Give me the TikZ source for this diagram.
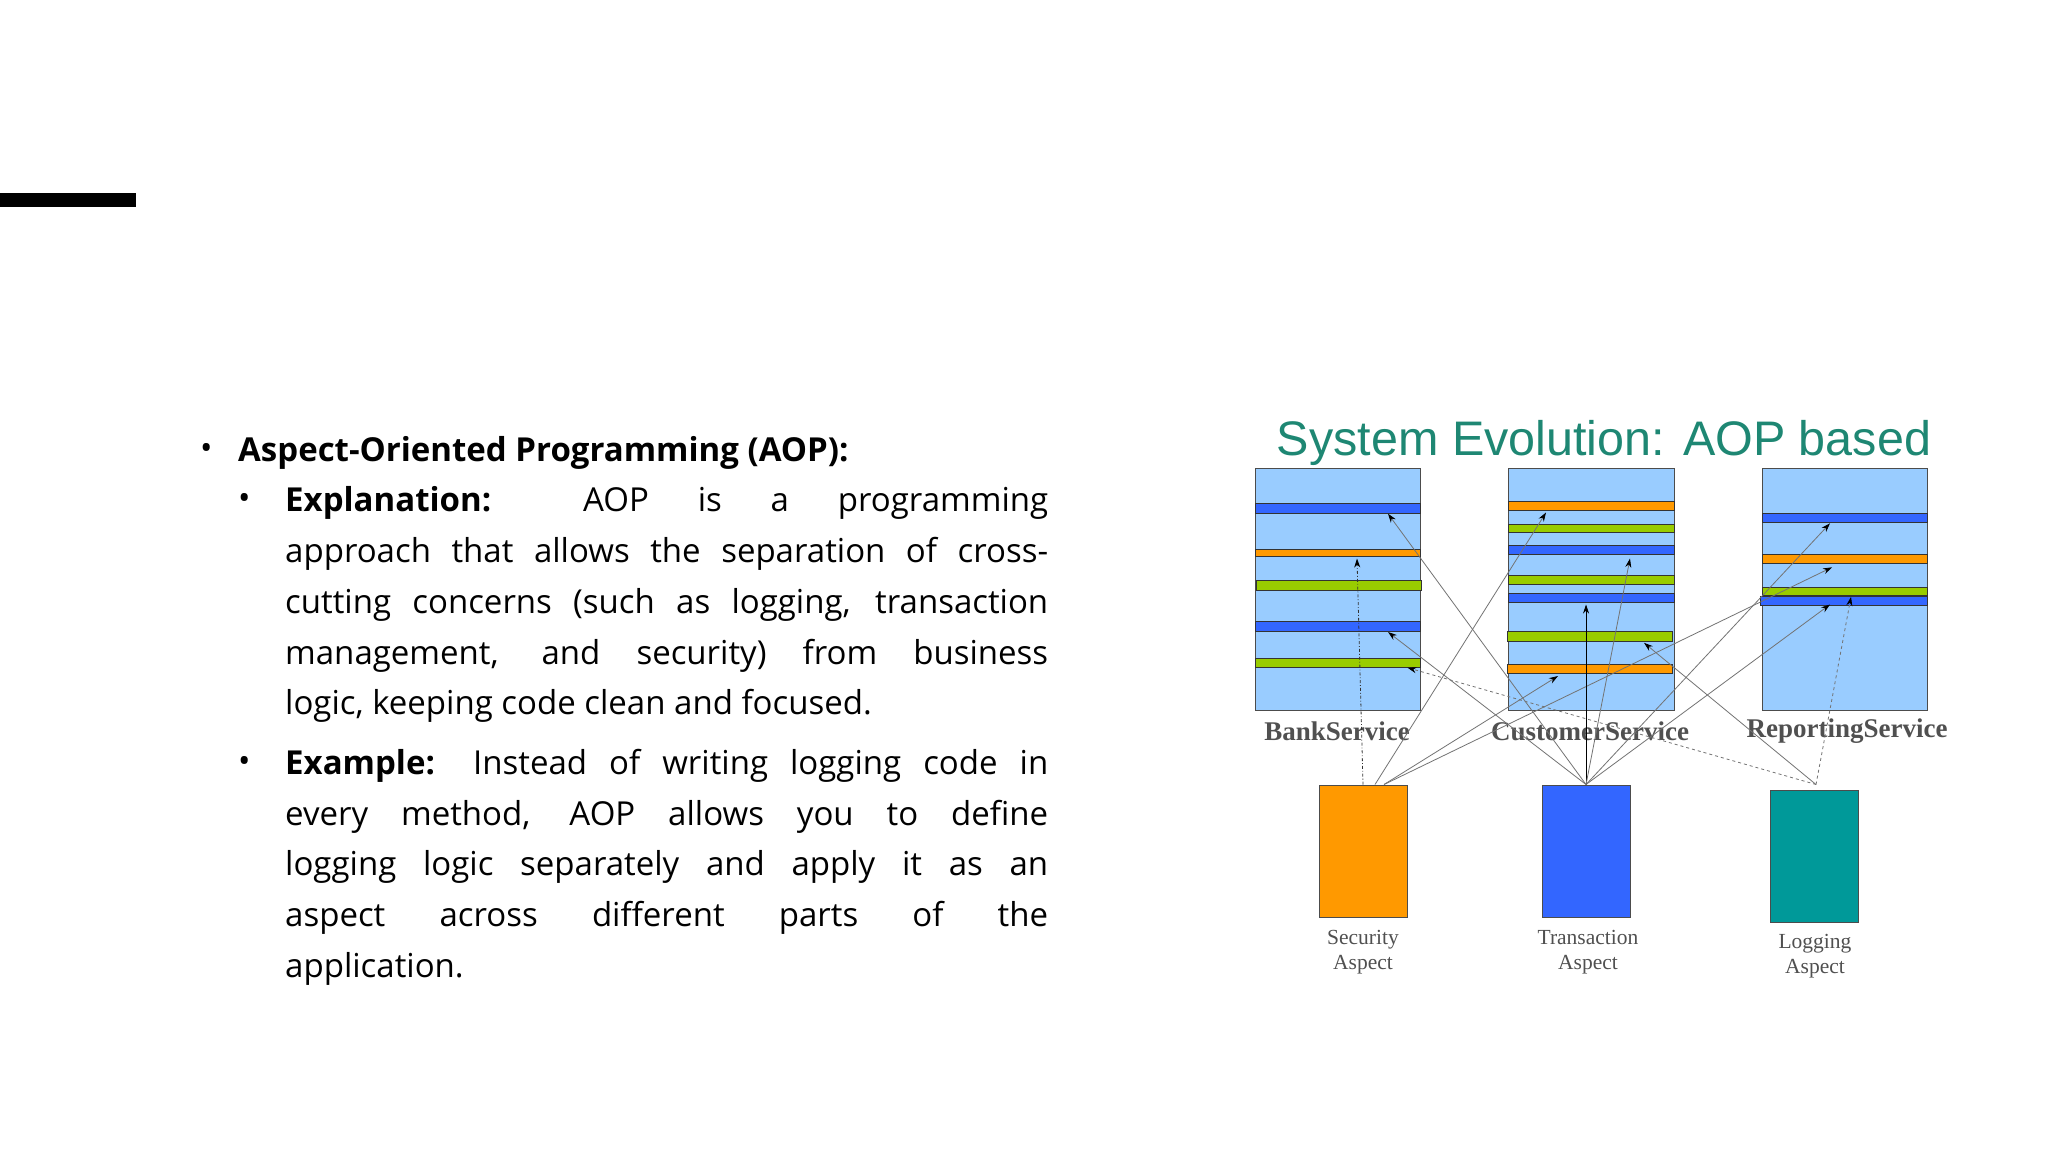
\documentclass[tikz,border=0pt]{standalone}
\usepackage{fontspec}
\setmainfont{Open Sans}
\newfontfamily\arialf{Liberation Sans}
\newfontfamily\timesf{Liberation Serif}
\usetikzlibrary{arrows.meta}
\definecolor{boxbg}{RGB}{153,204,255}
\definecolor{sblue}{RGB}{51,102,255}
\definecolor{sorange}{RGB}{255,153,0}
\definecolor{sgreen}{RGB}{153,204,0}
\definecolor{steal}{RGB}{0,153,153}
\definecolor{ttl}{RGB}{30,135,115}
\definecolor{lbl}{RGB}{80,80,80}
\tikzset{
  svc/.style={draw=black!70,line width=1pt,fill=boxbg},
  stripe/.style={draw=black!80,line width=0.8pt},
  link/.style={draw=black!55,line width=0.8pt,-{Stealth[length=9pt,width=6pt,black]}},
  dlink/.style={link,dashed},
  svclbl/.style={font=\timesf\bfseries\fontsize{27}{30}\selectfont,text=lbl},
  asplbl/.style={font=\timesf\fontsize{21.5}{25}\selectfont,text=lbl,align=center},
  aspbox/.style={draw=black!70,line width=1pt,minimum width=88pt,minimum height=132pt,inner sep=0,anchor=north},
}
\begin{document}
\begin{tikzpicture}[x=1pt,y=-1pt]
\useasboundingbox (0,0) rectangle (2048,1152);
\fill[white] (0,0) rectangle (2048,1152);
\fill[black] (0,193) rectangle (136,207);
% text
\node[anchor=north west,inner sep=0] (txt) at (200,436) {\parbox{860pt}{\fontsize{33}{50.7}\selectfont
\makebox[38pt][l]{\raisebox{2pt}{\textbullet}}\textbf{Aspect-Oriented Programming (AOP):}\par
\leftskip=85pt \hsize=848pt
\hspace*{-47pt}\makebox[47pt][l]{\raisebox{2pt}{\textbullet}}\textbf{Explanation:} AOP is a programming\linebreak
approach that allows the separation of cross-\linebreak
cutting concerns (such as logging, transaction\linebreak
management, and security) from business\linebreak
logic, keeping code clean and focused.\par
\vspace{9pt}
\hspace*{-47pt}\makebox[47pt][l]{\raisebox{2pt}{\textbullet}}\textbf{Example:} Instead of writing logging code in\linebreak
every method, AOP allows you to define\linebreak
logging logic separately and apply it as an\linebreak
aspect across different parts of the\linebreak
application.\par}};
% title
\node[font=\arialf\fontsize{48.5}{52}\selectfont,text=ttl,anchor=base] (title) at (1604,455) {System Evolution: AOP based};
% service boxes
\draw[svc] (1255,468.5) rectangle (1420,710.6);
\draw[svc] (1508,468.5) rectangle (1674,710.6);
\draw[svc] (1762,468.5) rectangle (1927,710.6);
% bank stripes
\draw[stripe,fill=sblue] (1255,503.7) rectangle (1420,513.3);
\draw[stripe,fill=sorange] (1255,549) rectangle (1420,556.6);
\draw[stripe,fill=sgreen] (1256,580.3) rectangle (1421.5,590.3);
\draw[stripe,fill=sblue] (1255,621.7) rectangle (1420,630.9);
\draw[stripe,fill=sgreen] (1255,658) rectangle (1420,667.7);
% customer stripes
\draw[stripe,fill=sorange] (1508,501) rectangle (1674,509.9);
\draw[stripe,fill=sgreen] (1508,524) rectangle (1674,532.8);
\draw[stripe,fill=sblue] (1508,545) rectangle (1674,554.7);
\draw[stripe,fill=sgreen] (1508,575.7) rectangle (1674,584.2);
\draw[stripe,fill=sblue] (1508,593) rectangle (1674,602.6);
\draw[stripe,fill=sgreen] (1507,631.3) rectangle (1672.6,640.9);
\draw[stripe,fill=sorange] (1507,664) rectangle (1672.6,673.4);
% reporting stripes
\draw[stripe,fill=sblue] (1762,513.3) rectangle (1927,522);
\draw[stripe,fill=sorange] (1762,554.7) rectangle (1927,563.5);
\draw[stripe,fill=sgreen] (1762,587.2) rectangle (1927,595.7);
\draw[stripe,fill=sblue] (1760,596) rectangle (1927,605.6);
% service labels
\node[svclbl] (bank) at (1337,731) {BankService};
\node[svclbl] (cust) at (1590,731) {CustomerService};
\node[svclbl] (rep) at (1847,731) {ReportingService};
% aspect boxes
\node[aspbox,fill=sorange] (sec) at (1363,784.5) {};
\node[aspbox,fill=sblue] (tra) at (1586.5,784.5) {};
\node[aspbox,fill=steal] (log) at (1814,789.5) {};
\node[asplbl] (secl) at (1363,952) {Security\\Aspect};
\node[asplbl] (tral) at (1588,952) {Transaction\\Aspect};
\node[asplbl] (logl) at (1815,956.5) {Logging\\Aspect};
% source points
\coordinate (s1) at (1363,784.5);
\coordinate (s2) at (1375,784.5);
\coordinate (s3) at (1384,784.5);
\coordinate (t0) at (1586,784.5);
\coordinate (l0) at (1816,784.5);
% targets
\coordinate (bo) at (1357,558.5);
\coordinate (co1) at (1546,512.5);
\coordinate (co2) at (1558,676);
\coordinate (ro) at (1832,567.3);
\coordinate (bb1) at (1388,513.7);
\coordinate (bb2) at (1388,632);
\coordinate (cb1) at (1586,604.5);
\coordinate (cb2) at (1630,558.5);
\coordinate (rb1) at (1830,523.3);
\coordinate (rb2) at (1830,604.5);
\coordinate (bg) at (1407.5,667.7);
\coordinate (cg) at (1644,642.8);
\coordinate (rg) at (1851,596.8);
% security links
\draw[link,dash dot,draw=black!80] (s1) -- (bo);
\draw[link] (s2) -- (co1);
\draw[link] (s3) -- (co2);
\draw[link] (s3) -- (ro);
% transaction links
\draw[link] (t0) -- (bb1);
\draw[link,draw=black] (t0) -- (cb1);
\draw[link] (t0) -- (cb2);
\draw[link] (t0) -- (rb1);
\draw[link] (t0) -- (rb2);
\draw[link] (t0) -- (bb2);
% logging links
\draw[dlink] (l0) -- (bg);
\draw[link] (l0) -- (cg);
\draw[dlink] (l0) -- (rg);
\end{tikzpicture}
\end{document}
